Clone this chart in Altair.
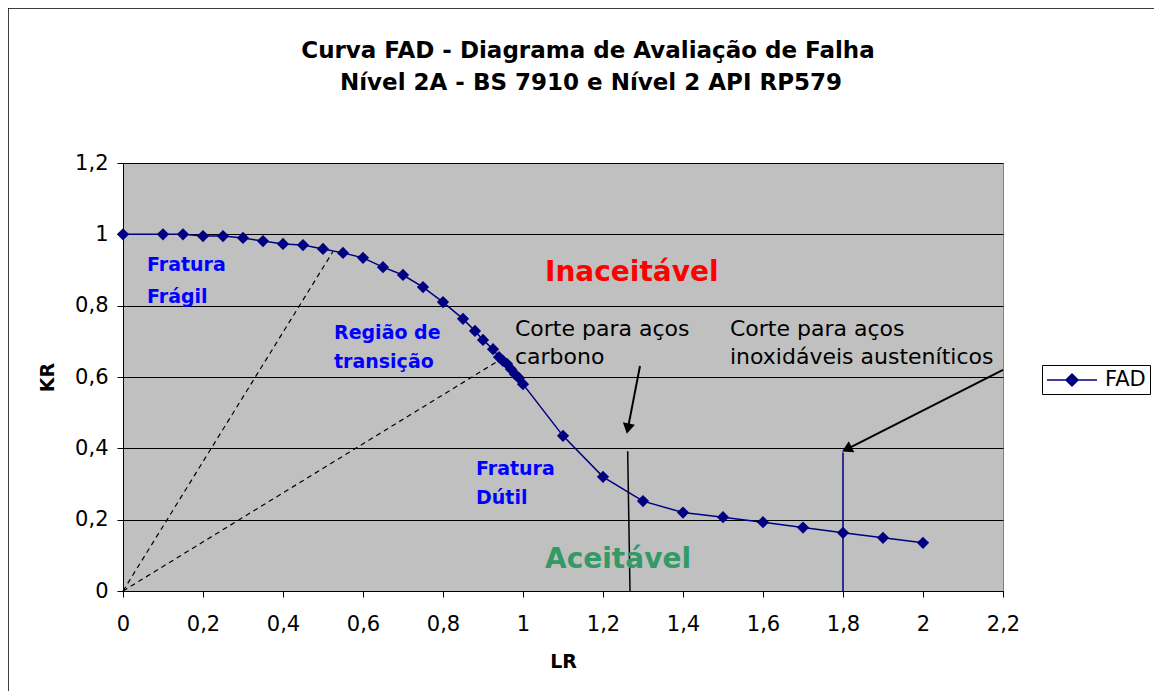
import altair as alt
import pandas as pd

# ---- data ----
lr = [0, 0.1, 0.15, 0.2, 0.25, 0.3, 0.35, 0.4, 0.45, 0.5, 0.55, 0.6, 0.65, 0.7, 0.75,
      0.8, 0.85, 0.88, 0.9, 0.925, 0.94, 0.95, 0.96, 0.97, 0.98, 0.99, 1.0,
      1.1, 1.2, 1.3, 1.4, 1.5, 1.6, 1.7, 1.8, 1.9, 2.0]
kr = [1.0, 1.0, 1.0, 0.995, 0.995, 0.99, 0.981, 0.973, 0.97, 0.959, 0.948, 0.934, 0.908,
      0.886, 0.852, 0.81, 0.763, 0.729, 0.704, 0.678, 0.656, 0.645, 0.637, 0.622, 0.608,
      0.597, 0.58, 0.435, 0.32, 0.252, 0.22, 0.207, 0.193, 0.178, 0.163, 0.149, 0.135]

title_lines = ["Curva FAD - Diagrama de Avaliação de Falha",
               "Nível 2A - BS 7910 e Nível 2 API RP579"]

# dashed rays from the origin
ray_id = ["a", "a", "b", "b"]
ray_x = [0, 0.525, 0, 0.935]
ray_y = [0, 0.952, 0, 0.643]

# cut-off lines (x, y, x2, y2)
cut_x = [1.2617, 1.8]
cut_y = [0.392, 0.388]
cut_x2 = [1.2675, 1.8]
cut_y2 = [0.0, 0.0]
cut_name = ["carbono", "austenitico"]

# arrows (start -> head)
arr_x = [1.2925, 2.2]
arr_y = [0.631, 0.62]
arr_x2 = [1.263, 1.8135]
arr_y2 = [0.46, 0.40]
arr_angle = [191, 243]

# annotation texts
blue_text = ["Fratura", "Frágil", "Região de", "transição", "Fratura", "Dútil"]
blue_x = [0.06, 0.06, 0.5275, 0.5275, 0.8825, 0.8825]
blue_y = [0.914, 0.824, 0.723, 0.642, 0.342, 0.261]

black_text = ["Corte para aços", "carbono", "Corte para aços", "inoxidáveis austeníticos"]
black_x = [0.98, 0.98, 1.5175, 1.5175]
black_y = [0.735, 0.656, 0.735, 0.656]

zone_text = ["Inaceitável", "Aceitável"]
zone_x = [1.055, 1.055]
zone_y = [0.892, 0.087]
zone_color = ["#FF0000", "#339966"]

x_ticks = [0, 0.2, 0.4, 0.6, 0.8, 1.0, 1.2, 1.4, 1.6, 1.8, 2.0, 2.2]
y_ticks = [0, 0.2, 0.4, 0.6, 0.8, 1.0, 1.2]

FONT = "DejaVu Sans"
NAVY = "#000080"

fad = pd.DataFrame({"LR": lr, "KR": kr, "serie": ["FAD"] * len(lr)})
rays = pd.DataFrame({"id": ray_id, "x": ray_x, "y": ray_y})
cuts = pd.DataFrame({"x": cut_x, "y": cut_y, "x2": cut_x2, "y2": cut_y2, "n": cut_name})
arrows = pd.DataFrame({"x": arr_x, "y": arr_y, "x2": arr_x2, "y2": arr_y2, "ang": arr_angle})
blue = pd.DataFrame({"t": blue_text, "x": blue_x, "y": blue_y})
black = pd.DataFrame({"t": black_text, "x": black_x, "y": black_y})
zones = pd.DataFrame({"t": zone_text, "x": zone_x, "y": zone_y, "c": zone_color})

xscale = alt.Scale(domain=[0, 2.2], nice=False, zero=False)
yscale = alt.Scale(domain=[0, 1.2], nice=False, zero=False)
label_expr = "replace(format(datum.value, '.1~f'), '.', ',')"

x_axis = alt.Axis(values=x_ticks, labelExpr=label_expr, grid=False, title="LR",
                  titleFont=FONT, titleFontSize=19, titleFontWeight="bold",
                  titleColor="black", titlePadding=18,
                  labelFont=FONT, labelFontSize=21, labelColor="black", labelPadding=16,
                  domainColor="black", tickColor="black", tickSize=6, labelFlush=False)
y_axis = alt.Axis(values=y_ticks, labelExpr=label_expr, grid=True, gridColor="black",
                  gridWidth=1, gridOpacity=1, title="KR",
                  titleFont=FONT, titleFontSize=19, titleFontWeight="bold",
                  titleColor="black", titlePadding=17,
                  labelFont=FONT, labelFontSize=21, labelColor="black", labelPadding=9,
                  domainColor="black", tickColor="black", tickSize=6, labelFlush=False)

def X(field):
    return alt.X(field, type="quantitative", scale=xscale, axis=x_axis, title="LR")

def Y(field):
    return alt.Y(field, type="quantitative", scale=yscale, axis=y_axis, title="KR")

one = pd.DataFrame({"k": [0]})

frame = alt.Chart(one).mark_rect(
    fill=None, stroke="black", strokeWidth=1.5, clip=False
).encode(x=alt.value(-115), x2=alt.value(1200), y=alt.value(-155), y2=alt.value(800))

title_1 = alt.Chart(one).mark_text(
    text=title_lines[0], font=FONT, fontSize=23, fontWeight="bold", color="black",
    align="center", baseline="alphabetic"
).encode(x=alt.value(465), y=alt.value(-105))
title_2 = alt.Chart(one).mark_text(
    text=title_lines[1], font=FONT, fontSize=23, fontWeight="bold", color="black",
    align="center", baseline="alphabetic"
).encode(x=alt.value(468), y=alt.value(-73))

# legend glyph: line from 0 to 50 px with a diamond in its middle (unit = 10 px)
legend_symbol = "M-1,0L4,0M1.5,-0.6L2.1,0L1.5,0.6L0.9,0Z"

fad_line = alt.Chart(fad).mark_line(
    strokeWidth=1.5,
    point=alt.OverlayMarkDef(shape="diamond", filled=True, size=150, color=NAVY),
).encode(
    x=X("LR"),
    y=Y("KR"),
    color=alt.Color("serie:N", scale=alt.Scale(domain=["FAD"], range=[NAVY]),
                    legend=alt.Legend(title=None, orient="none", legendX=919, legendY=202,
                                      symbolType=legend_symbol, symbolSize=400,
                                      symbolStrokeWidth=1.5, symbolFillColor=NAVY,
                                      symbolStrokeColor=NAVY,
                                      labelFont=FONT, labelFontSize=21, labelColor="black",
                                      labelOffset=37, padding=4,
                                      strokeColor="black", fillColor="white")),
)

ray_layer = alt.Chart(rays).mark_line(color="black", strokeWidth=1.2, strokeDash=[5, 4]).encode(
    x=X("x"), y=Y("y"), detail="id:N")

cut_layer = alt.Chart(cuts).mark_rule(strokeWidth=1.5).encode(
    x=X("x"), y=Y("y"), x2="x2", y2="y2",
    color=alt.Color("n:N", scale=alt.Scale(domain=cut_name, range=["black", NAVY]), legend=None))

arrow_line = alt.Chart(arrows).mark_rule(color="black", strokeWidth=2).encode(
    x=X("x"), y=Y("y"), x2="x2", y2="y2")
arrow_head = alt.Chart(arrows).mark_point(shape="triangle", filled=True, color="black",
                                          size=150, opacity=1).encode(
    x=X("x2"), y=Y("y2"), angle=alt.Angle("ang:Q", scale=None))

blue_layer = alt.Chart(blue).mark_text(align="left", baseline="middle", font=FONT,
                                       fontSize=19, fontWeight="bold", color="#0000FF").encode(
    x=X("x"), y=Y("y"), text="t:N")
black_layer = alt.Chart(black).mark_text(align="left", baseline="middle", font=FONT,
                                         fontSize=22, color="black").encode(
    x=X("x"), y=Y("y"), text="t:N")
zone_layer = alt.Chart(zones).mark_text(align="left", baseline="middle", font=FONT,
                                        fontSize=28, fontWeight="bold").encode(
    x=X("x"), y=Y("y"), text="t:N", color=alt.Color("c:N", scale=None))

chart = alt.layer(
    frame, ray_layer, fad_line, cut_layer, arrow_line, arrow_head,
    blue_layer, black_layer, zone_layer, title_1, title_2
).resolve_scale(color="independent").properties(
    width=880, height=428,
    autosize=alt.AutoSizeParams(type="none"),
    padding={"left": 115, "top": 155, "right": 151, "bottom": 100},
    background="white",
).configure_view(fill="#C0C0C0", stroke="#808080")

chart.save("out.html", embed_options={"renderer": "svg", "actions": False})
